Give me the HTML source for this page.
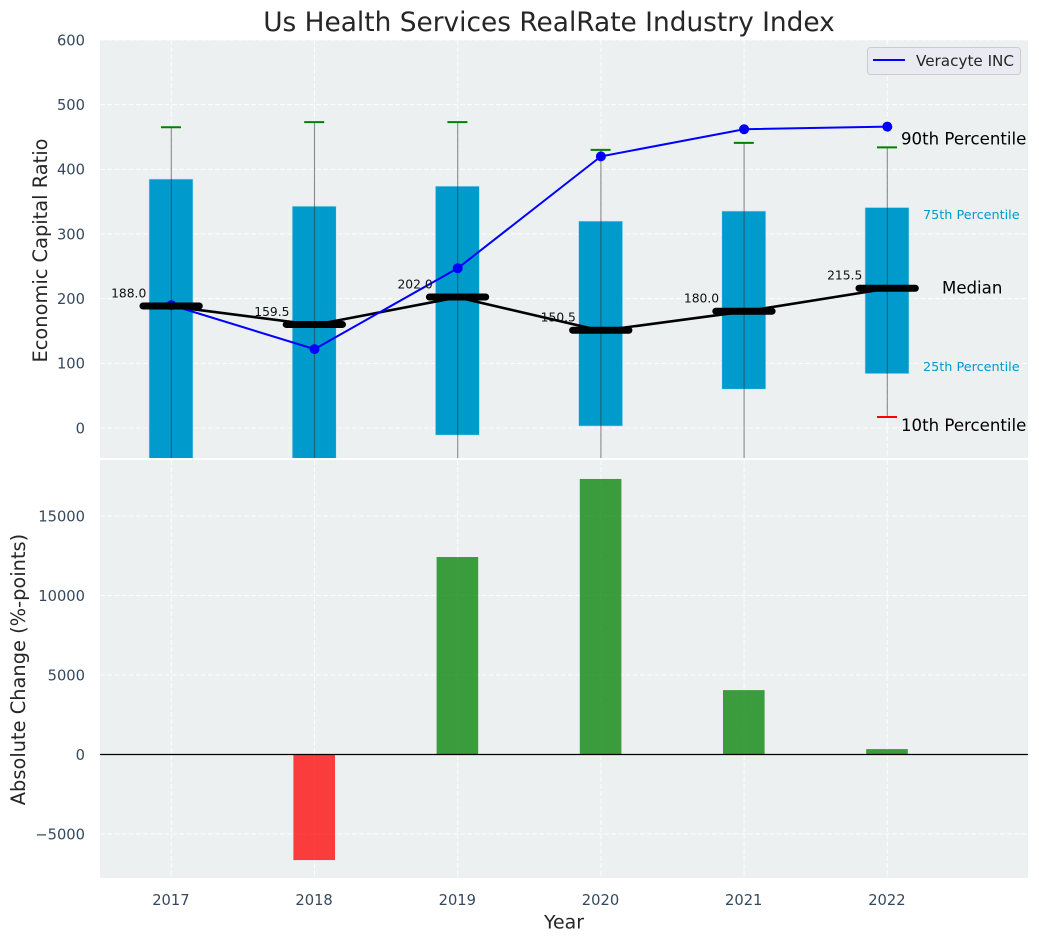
<!DOCTYPE html>
<html>
<head>
<meta charset="utf-8">
<title>Us Health Services RealRate Industry Index</title>
<style>
html,body{margin:0;padding:0;background:#fff;width:1039px;height:942px;overflow:hidden}
svg{display:block}
text{font-family:"DejaVu Sans","Liberation Sans",sans-serif}
</style>
</head>
<body>
<svg id="chart" xmlns="http://www.w3.org/2000/svg" width="1039" height="942" viewBox="0 0 1039 942">
<defs>
<clipPath id="clip-top"><rect x="100" y="40" width="928" height="418"></rect></clipPath>
<clipPath id="clip-bottom"><rect x="100" y="460" width="928" height="418"></rect></clipPath>
</defs>
</svg>
<script>
const years = [2017, 2018, 2019, 2020, 2021, 2022];
const p90 = [465, 473, 473, 430, 441, 434];
const q75 = [385, 343, 374, 320, 335.5, 341];
const medians = [188, 159.5, 202, 150.5, 180, 215.5];
const medianLabels = ['188.0', '159.5', '202.0', '150.5', '180.0', '215.5'];
const q25 = [-120, -110, -11, 3, 60, 84];
const p10 = [-200, -200, -150, -120, -100, 17];
const veracyte = [190, 122, 247, 420, 462, 466];
const absoluteChange = [0, -6640, 12420, 17330, 4050, 340];
const topTicks = [0, 100, 200, 300, 400, 500, 600];
const bottomTicks = [-5000, 0, 5000, 10000, 15000];
const bottomTickLabels = ['\u22125000', '0', '5000', '10000', '15000'];

const svg = document.getElementById('chart');
const NS = 'http://www.w3.org/2000/svg';
const xScale = v => 171.3 + (v - 2017) * 143.2;
const yTop = v => 428 - v * 0.64667;
const yBottom = v => 754.5 - v * 0.0159;

function mk(parent, tag, name, attrs, txt) {
  const el = document.createElementNS(NS, tag);
  
  
  for (const k in attrs) el.setAttribute(k, attrs[k]);
  if (txt !== undefined) el.textContent = txt;
  parent.appendChild(el);
  return el;
}

const tickColor = '#34495e';
const textDark = '#262626';

mk(svg, 'rect', 'top-panel-background', {x: 100, y: 40, width: 928, height: 418, fill: '#ecf0f1'});
mk(svg, 'rect', 'bottom-panel-background', {x: 100, y: 460, width: 928, height: 418, fill: '#ecf0f1'});

const gridAttrs = {stroke: '#ffffff', 'stroke-width': 1, 'stroke-dasharray': '5 2.2', opacity: 0.9};

const topG = mk(svg, 'g', 'top-panel', {'clip-path': 'url(#clip-top)'});
const botG = mk(svg, 'g', 'bottom-panel', {'clip-path': 'url(#clip-bottom)'});

topTicks.forEach(t => {
  mk(topG, 'line', 'y-gridline-top-' + t, Object.assign({x1: 100, x2: 1028, y1: yTop(t), y2: yTop(t)}, gridAttrs));
  mk(svg, 'text', 'y-tick-top-' + t, {x: 85, y: yTop(t) + 5.3, 'text-anchor': 'end', 'font-size': 14.7, fill: tickColor}, String(t));
});
bottomTicks.forEach((t, i) => {
  mk(botG, 'line', 'y-gridline-bottom-' + t, Object.assign({x1: 100, x2: 1028, y1: yBottom(t), y2: yBottom(t)}, gridAttrs));
  mk(svg, 'text', 'y-tick-bottom-' + t, {x: 85, y: yBottom(t) + 5.3, 'text-anchor': 'end', 'font-size': 14.7, fill: tickColor}, bottomTickLabels[i]);
});
years.forEach(y => {
  const x = xScale(y);
  mk(topG, 'line', 'x-gridline-top-' + y, Object.assign({x1: x, x2: x, y1: 40, y2: 458}, gridAttrs));
  mk(botG, 'line', 'x-gridline-bottom-' + y, Object.assign({x1: x, x2: x, y1: 460, y2: 878}, gridAttrs));
  mk(svg, 'text', 'x-tick-' + y, {x: x - 0.4, y: 905, 'text-anchor': 'middle', 'font-size': 14.7, fill: tickColor}, String(y));
});

const boxW = 44;
years.forEach((y, i) => {
  const x = xScale(y);
  mk(topG, 'rect', 'box-' + y, {
    x: x - boxW / 2 - 0.3, y: yTop(q75[i]), width: boxW,
    height: yTop(q25[i]) - yTop(q75[i]), fill: '#009bcd', stroke: '#bfe4f0', 'stroke-width': 0.6
  });
});
years.forEach((y, i) => {
  const x = xScale(y);
  mk(topG, 'line', 'whisker-' + y, {x1: x, x2: x, y1: yTop(p90[i]), y2: yTop(p10[i]), stroke: '#333', 'stroke-width': 1.1, opacity: 0.55});
  mk(topG, 'line', 'cap-90th-' + y, {x1: x - 10.3, x2: x + 9.7, y1: yTop(p90[i]), y2: yTop(p90[i]), stroke: '#008000', 'stroke-width': 2});
  mk(topG, 'line', 'cap-10th-' + y, {x1: x - 10.3, x2: x + 9.7, y1: yTop(p10[i]), y2: yTop(p10[i]), stroke: '#ff0000', 'stroke-width': 2});
});

mk(topG, 'polyline', 'median-line', {
  points: years.map((y, i) => xScale(y) + ',' + yTop(medians[i])).join(' '),
  fill: 'none', stroke: '#000', 'stroke-width': 2.6
});
mk(topG, 'polyline', 'veracyte-line', {
  points: years.map((y, i) => xScale(y) + ',' + yTop(veracyte[i])).join(' '),
  fill: 'none', stroke: '#0000ff', 'stroke-width': 2
});
years.forEach((y, i) => {
  mk(topG, 'circle', 'veracyte-point-' + y, {cx: xScale(y), cy: yTop(veracyte[i]), r: 5, fill: '#0000ff'});
});
years.forEach((y, i) => {
  const x = xScale(y);
  mk(topG, 'line', 'median-bar-' + y, {x1: x - 28.3, x2: x + 28, y1: yTop(medians[i]) - 0.4, y2: yTop(medians[i]) - 0.4, stroke: '#000', 'stroke-width': 7, 'stroke-linecap': 'round'});
});
years.forEach((y, i) => {
  mk(svg, 'text', 'median-label-' + y, {x: xScale(y) - 25, y: yTop(medians[i]) - 9, 'text-anchor': 'end', 'font-size': 12.3, fill: '#111'}, medianLabels[i]);
});

const last = years.length - 1;
const lx = xScale(years[last]);
mk(svg, 'text', 'label-90th-percentile', {x: lx + 13.7, y: yTop(p90[last]) - 3, 'font-size': 16.6, fill: '#000'}, '90th Percentile');
mk(svg, 'text', 'label-75th-percentile', {x: lx + 35.7, y: yTop(q75[last]) + 11.5, 'font-size': 12.8, fill: '#009bcd'}, '75th Percentile');
mk(svg, 'text', 'label-median', {x: lx + 54.7, y: yTop(medians[last]) + 5, 'font-size': 16.6, fill: '#000'}, 'Median');
mk(svg, 'text', 'label-25th-percentile', {x: lx + 35.7, y: yTop(q25[last]) - 2.5, 'font-size': 12.8, fill: '#009bcd'}, '25th Percentile');
mk(svg, 'text', 'label-10th-percentile', {x: lx + 13.7, y: yTop(p10[last]) + 14, 'font-size': 16.6, fill: '#000'}, '10th Percentile');

const changeW = 41.6;
years.forEach((y, i) => {
  const v = absoluteChange[i];
  const y0 = yBottom(Math.max(v, 0));
  const y1 = yBottom(Math.min(v, 0));
  mk(botG, 'rect', 'change-bar-' + y, {
    x: xScale(y) - changeW / 2 - 0.3, y: y0, width: changeW, height: y1 - y0,
    fill: v >= 0 ? '#008000' : '#ff0000', 'fill-opacity': 0.75
  });
});
mk(botG, 'line', 'zero-line', {x1: 100, x2: 1028, y1: yBottom(0), y2: yBottom(0), stroke: '#000', 'stroke-width': 1.2});

const legend = mk(svg, 'g', 'legend', {});
mk(legend, 'rect', 'legend-box', {x: 867.5, y: 47.5, width: 153, height: 27, rx: 3, fill: '#eaeaf2', stroke: '#cccccc', 'stroke-width': 1});
mk(legend, 'line', 'legend-line', {x1: 873, x2: 905, y1: 60, y2: 60, stroke: '#0000ff', 'stroke-width': 2});
mk(legend, 'text', 'legend-label', {x: 916, y: 66, 'font-size': 15.2, fill: textDark}, 'Veracyte INC');

mk(svg, 'text', 'chart-title', {x: 549, y: 31, 'text-anchor': 'middle', 'font-size': 26.4, fill: textDark}, 'Us Health Services RealRate Industry Index');
mk(svg, 'text', 'x-axis-title', {x: 564, y: 928.5, 'text-anchor': 'middle', 'font-size': 18.9, fill: textDark}, 'Year');
mk(svg, 'text', 'y-axis-title-top', {x: 0, y: 0, transform: 'translate(47,250.5) rotate(-90)', 'text-anchor': 'middle', 'font-size': 19.4, fill: textDark}, 'Economic Capital Ratio');
mk(svg, 'text', 'y-axis-title-bottom', {x: 0, y: 0, transform: 'translate(25,669.5) rotate(-90)', 'text-anchor': 'middle', 'font-size': 19.4, fill: textDark}, 'Absolute Change (%-points)');
</script>
</body>
</html>
